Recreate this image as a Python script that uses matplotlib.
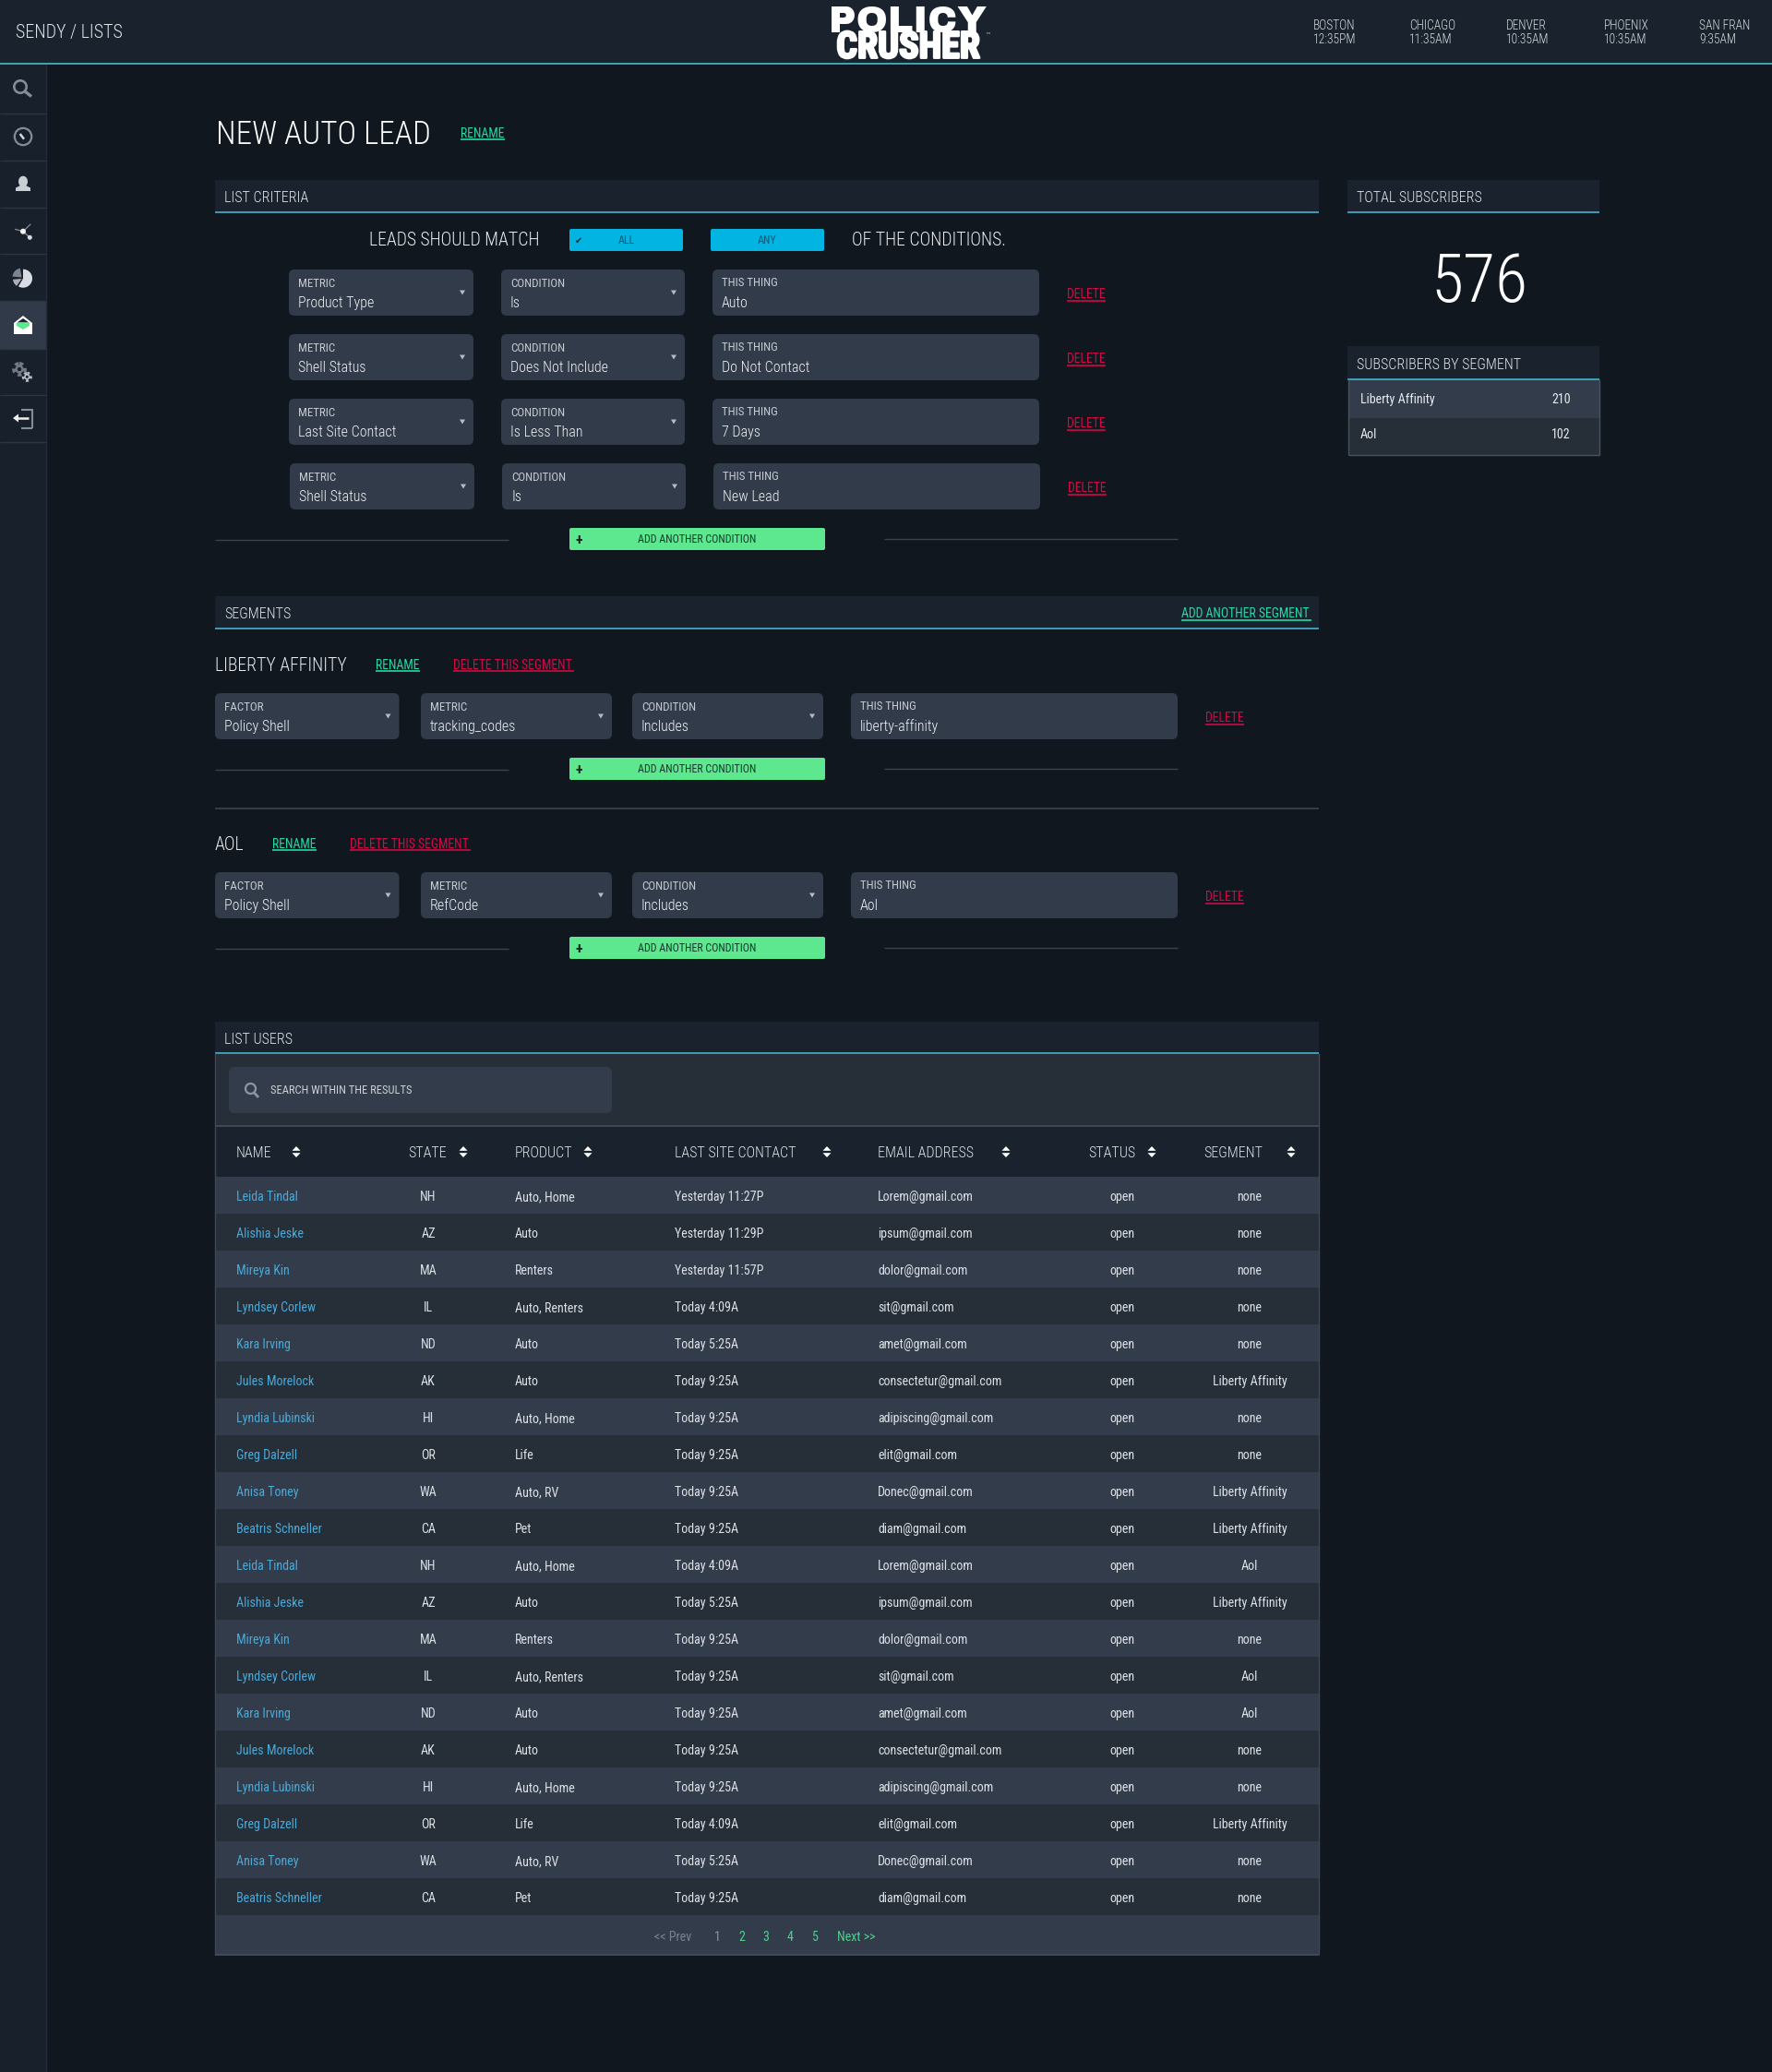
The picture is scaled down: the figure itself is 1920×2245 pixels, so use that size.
import matplotlib
matplotlib.use('Agg')
import matplotlib.pyplot as plt
import matplotlib.patheffects as pe
from matplotlib.patches import FancyBboxPatch, Rectangle, Polygon, Circle, Wedge, Ellipse
from matplotlib.lines import Line2D
from matplotlib import font_manager as fm

# ---------- content ----------
page_title = "NEW AUTO LEAD"
app_path = "SENDY / LISTS"
logo_lines = ["POLICY", "CRUSHER"]
cities = ["BOSTON", "CHICAGO", "DENVER", "PHOENIX", "SAN FRAN"]
city_times = ["12:35PM", "11:35AM", "10:35AM", "10:35AM", "9:35AM"]

total_subscribers = 576
segment_names = ["Liberty Affinity", "Aol"]
segment_counts = [210, 102]

criteria_metric = ["Product Type", "Shell Status", "Last Site Contact", "Shell Status"]
criteria_condition = ["Is", "Does Not Include", "Is Less Than", "Is"]
criteria_thing = ["Auto", "Do Not Contact", "7 Days", "New Lead"]

seg_titles = ["LIBERTY AFFINITY", "AOL"]
seg_factor = ["Policy Shell", "Policy Shell"]
seg_metric = ["tracking_codes", "RefCode"]
seg_condition = ["Includes", "Includes"]
seg_thing = ["liberty-affinity", "Aol"]

table_headers = ["NAME", "STATE", "PRODUCT", "LAST SITE CONTACT", "EMAIL ADDRESS", "STATUS", "SEGMENT"]
names = ["Leida Tindal", "Alishia Jeske", "Mireya Kin", "Lyndsey Corlew", "Kara Irving",
         "Jules Morelock", "Lyndia Lubinski", "Greg Dalzell", "Anisa Toney", "Beatris Schneller",
         "Leida Tindal", "Alishia Jeske", "Mireya Kin", "Lyndsey Corlew", "Kara Irving",
         "Jules Morelock", "Lyndia Lubinski", "Greg Dalzell", "Anisa Toney", "Beatris Schneller"]
states = ["NH", "AZ", "MA", "IL", "ND", "AK", "HI", "OR", "WA", "CA",
          "NH", "AZ", "MA", "IL", "ND", "AK", "HI", "OR", "WA", "CA"]
products = ["Auto, Home", "Auto", "Renters", "Auto, Renters", "Auto", "Auto", "Auto, Home", "Life", "Auto, RV", "Pet",
            "Auto, Home", "Auto", "Renters", "Auto, Renters", "Auto", "Auto", "Auto, Home", "Life", "Auto, RV", "Pet"]
contacts = ["Yesterday 11:27P", "Yesterday 11:29P", "Yesterday 11:57P", "Today 4:09A", "Today 5:25A",
            "Today 9:25A", "Today 9:25A", "Today 9:25A", "Today 9:25A", "Today 9:25A",
            "Today 4:09A", "Today 5:25A", "Today 9:25A", "Today 9:25A", "Today 9:25A",
            "Today 9:25A", "Today 9:25A", "Today 4:09A", "Today 5:25A", "Today 9:25A"]
emails = ["Lorem@gmail.com", "ipsum@gmail.com", "dolor@gmail.com", "sit@gmail.com", "amet@gmail.com",
          "consectetur@gmail.com", "adipiscing@gmail.com", "elit@gmail.com", "Donec@gmail.com", "diam@gmail.com",
          "Lorem@gmail.com", "ipsum@gmail.com", "dolor@gmail.com", "sit@gmail.com", "amet@gmail.com",
          "consectetur@gmail.com", "adipiscing@gmail.com", "elit@gmail.com", "Donec@gmail.com", "diam@gmail.com"]
statuses = ["open"] * 20
segments = ["none", "none", "none", "none", "none", "Liberty Affinity", "none", "none", "Liberty Affinity", "Liberty Affinity",
            "Aol", "Liberty Affinity", "none", "Aol", "Aol", "none", "none", "Liberty Affinity", "none", "none"]
page_labels = ["1", "2", "3", "4", "5"]

# ---------- style ----------
BG = "#10171e"; HEAD = "#1a222d"; BOX = "#313b49"; ROWL = "#323c4a"; ROWD = "#262e38"
CYAN = "#46b4cf"; LINE = "#3a4450"; GREEN = "#5de88f"; TEAL = "#24d8a8"; RED = "#cf0a45"
BLUEBTN = "#02b4e2"; LINK = "#4aa9d8"
FONT = ['Roboto Condensed', 'Liberation Sans Narrow', 'DejaVu Sans']
avail = {f.name for f in fm.fontManager.ttflist}
FONT = [f for f in FONT if f in avail]
plt.rcParams['font.family'] = FONT

fig = plt.figure(figsize=(19.2, 22.45), dpi=100, facecolor=BG)
ax = fig.add_axes([0, 0, 1, 1])
ax.set_xlim(0, 1920); ax.set_ylim(2245, 0); ax.axis('off')


def T(x, y, s, px=14, color="#ffffff", ha='left', weight=400, **kw):
    # y is the middle of the capitals; baseline placement keeps a row's texts level
    return ax.text(x, y + 0.355 * px, s, fontsize=px * 0.72, color=color, ha=ha, va='baseline', weight=weight, **kw)


def R(x0, y0, x1, y1, color, z=1):
    ax.add_patch(Rectangle((x0, y0), x1 - x0, y1 - y0, fc=color, ec='none', zorder=z))


def RR(x0, y0, x1, y1, color, r=6, z=1):
    ax.add_patch(FancyBboxPatch((x0, y0), x1 - x0, y1 - y0, boxstyle=f"round,pad=0,rounding_size={r}",
                                fc=color, ec='none', zorder=z))


def L(x0, y0, x1, y1, color=LINE, lw=1.0, z=2):
    ax.add_line(Line2D([x0, x1], [y0, y1], color=color, lw=lw, zorder=z, solid_capstyle='butt'))


def underlined(x, y, s, px, color, width):
    T(x, y, s, px, color)
    L(x, y + 7, x + width, y + 7, color, 1.2)


def caret(x, y, color="#b5bcc5"):
    ax.add_patch(Polygon([(x - 3, y - 2.5), (x + 3, y - 2.5), (x, y + 2.5)], fc=color, ec='none', zorder=3))


def sort_arrows(x, y, color="#ffffff"):
    ax.add_patch(Polygon([(x - 4.5, y - 1.2), (x + 4.5, y - 1.2), (x, y - 6)], fc=color, ec='none', zorder=3))
    ax.add_patch(Polygon([(x - 4.5, y + 1.2), (x + 4.5, y + 1.2), (x, y + 6)], fc=color, ec='none', zorder=3))


def section_bar(x0, x1, y0, y1, s):
    R(x0, y0, x1, y1, HEAD)
    L(x0, y1, x1, y1, CYAN, 1.2, 3)
    T(x0 + 10, (y0 + y1) / 2 + 1.5, s, 16, "#e4e7ea", weight=300)


def field(x0, x1, y0, label, value, select=True):
    RR(x0, y0, x1, y0 + 50, BOX)
    T(x0 + 10, y0 + (14.5 if select else 13), label, 13, "#c6cad0")
    T(x0 + 10, y0 + 35, value, 16, "#f2f4f6", weight=300)
    if select:
        caret(x1 - 12, y0 + 25)


def add_button(y):
    RR(617, y, 894, y + 24, GREEN, r=2)
    T(755.5, y + 12, "ADD ANOTHER CONDITION", 12, "#123a2b", ha='center')
    T(627, y + 12, "+", 16, "#0e2a20", ha='center', weight=700)
    L(233, y + 13, 551, y + 13)
    L(958, y + 12, 1276, y + 12)


def gear(x, y, r, color, hole):
    ax.add_patch(Circle((x, y), r, fc='none', ec=color, lw=r * 0.55, ls=(0, (0.9, 0.9)), zorder=3))
    ax.add_patch(Circle((x, y), r * 0.8, fc=color, ec='none', zorder=3))
    ax.add_patch(Circle((x, y), r * 0.38, fc=hole, ec='none', zorder=4))


# ---------- chrome ----------
R(0, 0, 1920, 69, HEAD)
L(0, 69, 1920, 69, "#49bcc9", 1.2, 3)
R(0, 69, 50, 2245, "#18202b")
L(50, 69, 50, 2245, "#232c38", 1)
R(0, 326, 50, 378, "#303a48")
for yy in [122.5, 173.5, 224.5, 275, 326, 378, 428, 479]:
    L(0, yy, 50, yy, "#2c3542", 1)

T(17, 34, app_path, 20, "#dfe3e6", weight=300)
T(984, 20.5, logo_lines[0], 41, "#ffffff", ha='center', family='Archivo Black')
T(984, 48.5, logo_lines[1], 40, "#ffffff", ha='center', weight=700,
  path_effects=[pe.withStroke(linewidth=1.8, foreground="#ffffff")])
T(1070, 38, "\u2122", 6, "#cfd3d8", ha='center', family='DejaVu Sans')
for cx, c, t in zip([1423, 1527, 1632, 1738, 1841], cities, city_times):
    T(cx, 27, c, 13.5, "#d8dce0", weight=300)
    T(cx, 42, t, 13.5, "#d8dce0", weight=300)

# sidebar icons
IC = "#858c96"; IL = "#c9ced4"
ax.add_patch(Circle((22, 94), 6.7, fc='none', ec=IC, lw=1.9, zorder=3))
L(27, 99, 34, 104.5, IC, 2.4, 3)
ax.add_patch(Circle((25, 148), 9.2, fc='none', ec=IC, lw=1.6, zorder=3))
L(21.7, 145, 26, 150.7, "#d5d8dc", 1.8, 3)
ax.add_patch(Ellipse((25, 196.7), 10, 12, fc=IL, ec='none', zorder=3))
ax.add_patch(Polygon([(17, 207), (33, 207), (33, 203.5), (28, 201), (22, 201), (17, 203.5)], fc=IL, ec='none', zorder=3))
L(16, 248.3, 25, 250.7, IC, 0.9, 3); L(25, 250.7, 33.3, 242.7, IC, 0.9, 3); L(25, 250.7, 32.3, 257.3, IC, 1, 3)
ax.add_patch(Circle((25, 250.7), 3, fc="#f2f2f2", ec='none', zorder=4))
ax.add_patch(Circle((32.3, 257.3), 2.5, fc="#d9dde2", ec='none', zorder=4))
# pie
ax.add_patch(Wedge((25, 301.7), 10, -90, 120, fc="#d9dde2", ec='none', zorder=3))
ax.add_patch(Wedge((23.5, 300.5), 10, -175, -100, fc="#7d848e", ec='none', zorder=3))
ax.add_patch(Wedge((23.5, 302), 9.5, 125, 175, fc="#a9afb6", ec='none', zorder=3))
# envelope
ax.add_patch(Polygon([(15, 350), (25, 342), (35, 350), (35, 362), (15, 362)], fc="#ffffff", ec='none', zorder=3))
ax.add_patch(Polygon([(18.5, 349.5), (25, 345), (31.5, 349.5)], fc="#1d2531", ec='none', zorder=4))
ax.add_patch(Polygon([(18, 349.5), (32, 349.5), (32, 353), (25, 357), (18, 353)], fc="#5de88f", ec='none', zorder=4))
# gears
gear(21, 400, 5.7, "#737a84", "#18202b")
gear(29.3, 408.3, 4, "#b8bdc3", "#18202b")
# logout
L(23, 443.5, 35, 443.5, IC, 1.5, 3); L(35, 443, 35, 464, IC, 1.5, 3); L(35, 463.5, 23, 463.5, IC, 1.5, 3)
L(18, 453, 30.7, 453, "#f0f0f0", 1.8, 3)
ax.add_patch(Polygon([(14, 453), (20, 448.5), (20, 457.5)], fc="#f0f0f0", ec='none', zorder=3))

# ---------- title ----------
T(234, 143.5, page_title, 35, "#ffffff", weight=300)
underlined(499, 144, "RENAME", 13.7, TEAL, 48)

# ---------- list criteria ----------
section_bar(233, 1429, 195, 229.5, "LIST CRITERIA")
T(400, 259, "LEADS SHOULD MATCH", 19.8, "#e8eaed", weight=300)
RR(617, 248, 740, 272, BLUEBTN, r=2)
RR(770, 248, 893, 272, BLUEBTN, r=2)
T(627, 260, "\u2714", 10, "#0b2e3c", ha='center', family='DejaVu Sans')
T(678.5, 260, "ALL", 12, "#0d5670", ha='center')
T(831.5, 260, "ANY", 12, "#0d5670", ha='center')
T(923, 259, "OF THE CONDITIONS.", 19.8, "#e8eaed", weight=300)

for i, (m, c, t) in enumerate(zip(criteria_metric, criteria_condition, criteria_thing)):
    y = 292 + 70 * i
    d = 1 if i == 3 else 0
    field(313 + d, 513 + d, y, "METRIC", m)
    field(543 + d, 742 + d, y, "CONDITION", c)
    field(772 + d, 1126 + d, y, "THIS THING", t, select=False)
    underlined(1156 + d, y + 26.5, "DELETE", 13.7, RED, 42)
add_button(572)

# ---------- right column ----------
section_bar(1460, 1733, 195, 229.5, "TOTAL SUBSCRIBERS")
T(1603, 301, str(total_subscribers), 72, "#ffffff", ha='center', weight=300)
section_bar(1460, 1733, 375, 411, "SUBSCRIBERS BY SEGMENT")
for n, v, c, (a, b), yc in zip(segment_names, segment_counts, [ROWL, ROWD], [(411, 453), (453, 493)], [432, 470]):
    R(1461, a, 1733, b, c)
    T(1474, yc, n, 14, "#e8eaed")
    T(1702, yc, str(v), 14, "#e8eaed", ha='right')
L(1461, 411, 1461, 493, "#485260", 1, 3); L(1733, 411, 1733, 493, "#485260", 1, 3); L(1461, 493, 1733, 493, "#485260", 1, 3)

# ---------- segments ----------
section_bar(233, 1429, 646, 680.5, "SEGMENTS")
underlined(1280, 664.5, "ADD ANOTHER SEGMENT", 13.7, TEAL, 140.5)
seg_ys = [(720, 751, 821), (914, 945, 1015)]
seg_xs = [(407.4, 491), (295, 379)]
for i, ((ty, by, ay), (rx, dx)) in enumerate(zip(seg_ys, seg_xs)):
    T(233, ty - 0.5, seg_titles[i], 19.8, "#e8eaed", weight=300)
    underlined(rx, ty, "RENAME", 13.7, TEAL, 48)
    underlined(dx, ty, "DELETE THIS SEGMENT", 13.7, RED, 131)
    field(233, 432.5, by, "FACTOR", seg_factor[i])
    field(456, 663, by, "METRIC", seg_metric[i])
    field(685, 892, by, "CONDITION", seg_condition[i])
    field(922, 1276, by, "THIS THING", seg_thing[i], select=False)
    underlined(1306, by + 26.5, "DELETE", 13.7, RED, 42)
    add_button(ay)
L(233, 876, 1429, 876, LINE, 1.2)

# ---------- list users ----------
section_bar(233, 1429, 1107, 1141, "LIST USERS")
R(233, 1141.5, 1429, 1220, ROWD)
RR(248, 1156, 663, 1206, ROWL, r=6, z=2)
ax.add_patch(Circle((271.5, 1179.5), 5.5, fc='none', ec="#8e959e", lw=1.6, zorder=3))
L(275.5, 1184, 280, 1189, "#8e959e", 2, 3)
T(293, 1181, "SEARCH WITHIN THE RESULTS", 12.5, "#cdd1d6")
R(233, 1220, 1429, 1275, HEAD)
L(233, 1220, 1429, 1220, "#47515d", 1.1, 3)
head_x = [256, 442, 558, 731, 951, 1179, 1304]
arrow_x = [321, 502, 637, 896, 1090, 1248, 1399]
for hx, ax_, h in zip(head_x, arrow_x, table_headers):
    T(hx, 1248, h, 16, "#dfe3e6", weight=300)
    sort_arrows(ax_, 1248)

for i in range(len(names)):
    y0 = 1275 + 40 * i
    R(233, y0, 1429, y0 + 40, ROWL if i % 2 == 0 else ROWD)
    yc = y0 + 21
    T(256, yc, names[i], 14, LINK)
    T(464, yc, states[i], 14, "#dde0e4", ha='center')
    T(558, yc, products[i], 14, "#dde0e4")
    T(731, yc, contacts[i], 14, "#dde0e4")
    T(951, yc, emails[i], 14, "#dde0e4")
    T(1216, yc, statuses[i], 14, "#dde0e4", ha='center')
    T(1354, yc, segments[i], 14, "#dde0e4", ha='center')
R(233, 2075, 1429, 2118, ROWL)
L(233, 1141, 233, 2118, "#3f4955", 1, 3)
L(1429, 1141, 1429, 2118, "#3f4955", 1, 3)
L(233, 2118, 1429, 2118, "#47515d", 1.2, 3)
T(729, 2098, "<< Prev", 14, "#7a828d", ha='center')
for p, px_ in zip(page_labels, [777.5, 804, 830, 856.5, 883]):
    T(px_, 2098, p, 14, "#8b929c" if p == "1" else "#4fd08f", ha='center')
T(928, 2098, "Next >>", 14, "#4fd08f", ha='center')

fig.savefig('out.png', dpi=100, facecolor=BG)
